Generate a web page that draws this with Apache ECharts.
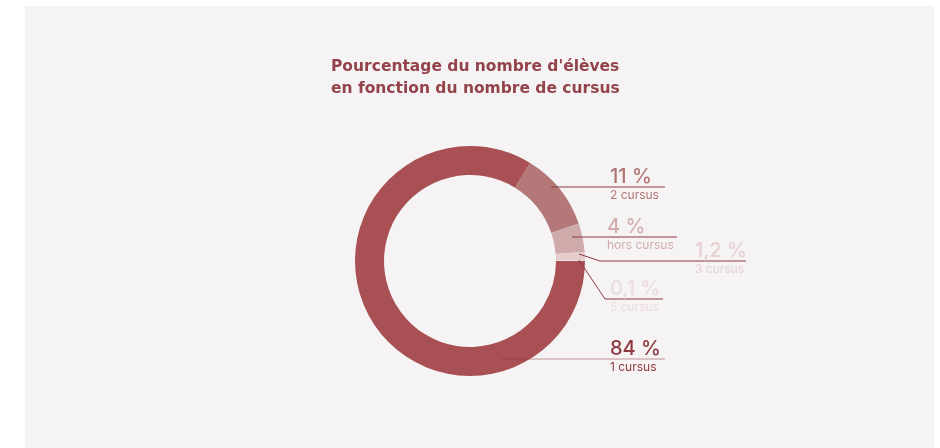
<!DOCTYPE html>
<html>
<head>
<meta charset="utf-8">
<script src="https://cdn.jsdelivr.net/npm/echarts@6/dist/echarts.min.js"></script>
<style>
  html, body { margin: 0; padding: 0; background: #fff; }
  #chart { width: 940px; height: 448px; }
</style>
</head>
<body>
<div id="chart"></div>
<script>
// data, clockwise from the top right
const categories = ['2 cursus', 'hors cursus', '3 cursus', '5 cursus', '1 cursus'];
const values = [11, 4, 1.2, 0.1, 84];
const percentLabels = ['11 %', '4 %', '1,2 %', '0,1 %', '84 %'];

const sliceColors = ['#b47878', '#cfaaaa', '#e5cbcc', '#f0e2e2', '#a85053'];
const textColors = ['#b27575', '#d3adad', '#e6d0d1', '#eddcdd', '#8d3a40'];

// label layout: text left, y of the rule, leader line points
const labelPos = [
    { x: 610, y: 187, line: [[551, 187], [551, 187], [665, 187]] },
    { x: 607, y: 237, line: [[572, 237], [572, 237], [677, 237]] },
    { x: 695, y: 261, line: [[579, 254], [600, 261], [746, 261]] },
    { x: 610, y: 299, line: [[579, 260], [605, 299], [663, 299]] },
    { x: 610, y: 359, line: [[502, 359], [502, 359], [665, 359]] }
];

const total = values.reduce((a, b) => a + b, 0);
// the big slice starts at 3 o'clock
const startAngle = 360 * (total - values[values.length - 1]) / total;

const font = 'Inter';

let pieBase = {
    type: 'pie',
    center: [470, 261],
    radius: [86, 115],
    startAngle: startAngle,
    clockwise: true,
    silent: true,
    emphasis: { disabled: true }
};

let option = {
    animation: false,
    graphic: [{
        type: 'rect',
        shape: { x: 25, y: 6, width: 909, height: 442 },
        style: { fill: '#f6f3f4' },
        z: -10
    }],
    title: {
        text: "Pourcentage du nombre d'élèves\nen fonction du nombre de cursus",
        left: 331,
        top: 56,
        padding: 0,
        textStyle: {
            fontFamily: 'DejaVu Sans',
            fontSize: 15.5,
            fontWeight: 'bold',
            lineHeight: 22,
            color: '#93444a'
        }
    },
    series: [
        Object.assign({}, pieBase, {
            z: 2,
            itemStyle: { borderWidth: 0 },
            label: { show: false },
            labelLine: { show: false },
            data: categories.map((c, i) => ({
                name: c, value: values[i], itemStyle: { color: sliceColors[i] }
            }))
        }),
        // same ring, transparent, on top: carries the labels and leader lines
        Object.assign({}, pieBase, {
            z: 5,
            itemStyle: { color: 'rgba(0,0,0,0)', borderWidth: 0 },
            label: {
                show: true,
                position: 'outside',
                fontFamily: font,
                formatter: p => '{v|' + percentLabels[p.dataIndex] + '}\n{n|' + p.name + '}',
                rich: {
                    v: { fontFamily: font, fontSize: 20, fontWeight: 500, lineHeight: 24 },
                    n: { fontFamily: font, fontSize: 12, lineHeight: 12 }
                }
            },
            labelLine: { show: true, lineStyle: { width: 1, color: '#8e3a3e' } },
            labelLayout: function (params) {
                const p = labelPos[params.dataIndex];
                return {
                    x: p.x,
                    y: p.y - 22,
                    align: 'left',
                    verticalAlign: 'top',
                    labelLinePoints: p.line
                };
            },
            data: categories.map((c, i) => ({
                name: c,
                value: values[i],
                label: { color: textColors[i] },
                labelLine: i === 4 ? { lineStyle: { color: 'rgba(140,50,55,0.5)' } } : undefined
            }))
        })
    ]
};

const chart = echarts.init(document.getElementById('chart'));
chart.setOption(option);
</script>
</body>
</html>
